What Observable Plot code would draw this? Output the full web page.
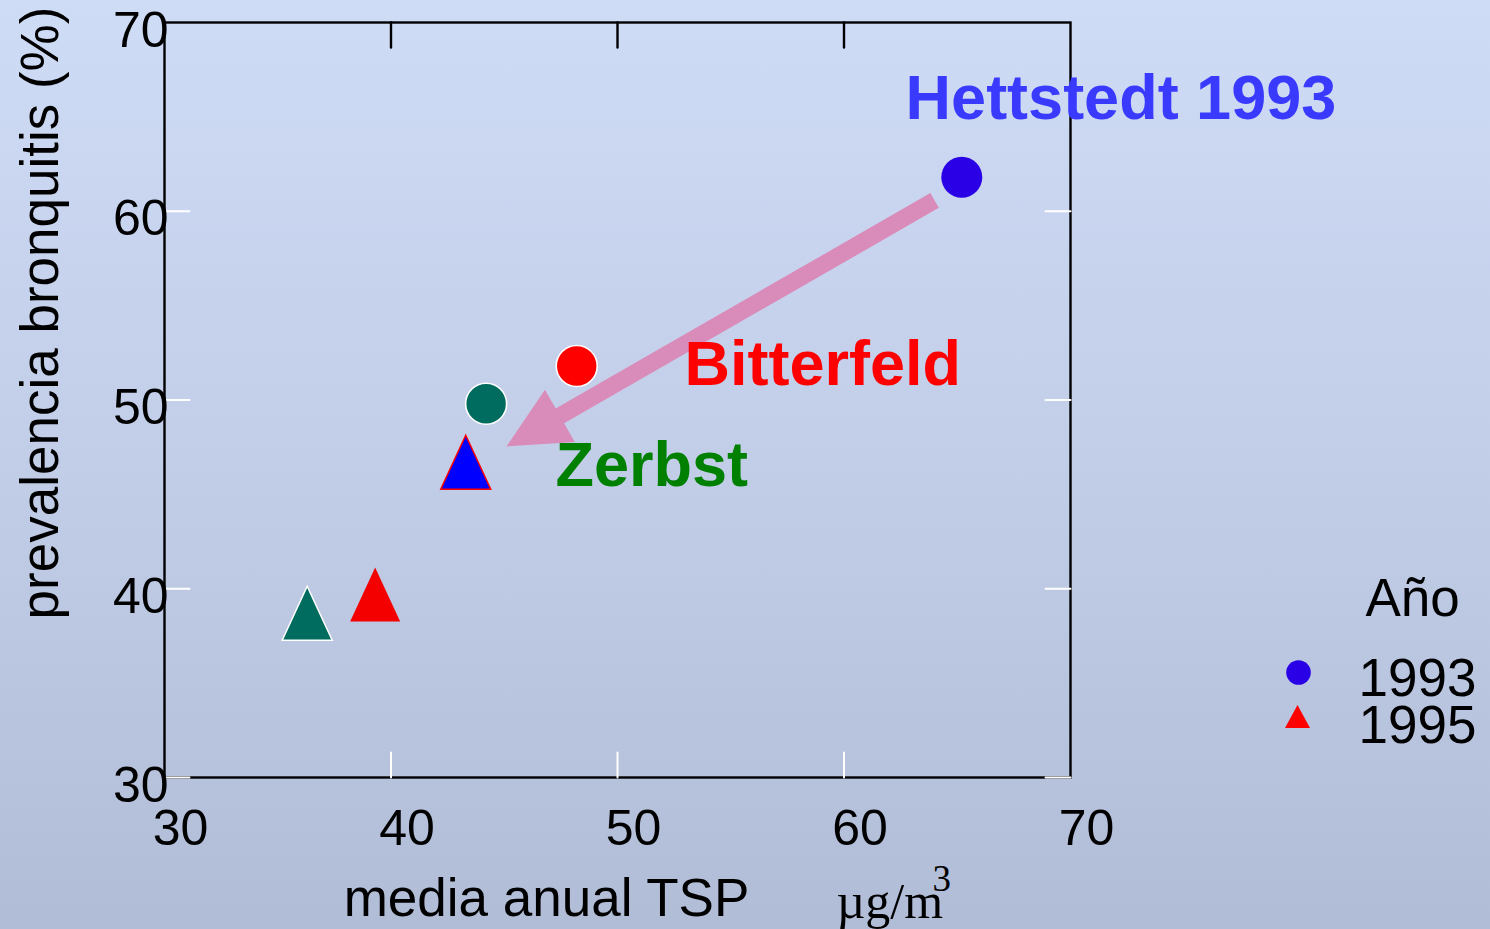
<!DOCTYPE html>
<html>
<head>
<meta charset="utf-8">
<script src="https://cdn.jsdelivr.net/npm/d3@7"></script>
<script src="https://cdn.jsdelivr.net/npm/@observablehq/plot@0.6"></script>
<style>
  html, body { margin: 0; padding: 0; }
  body {
    width: 1490px; height: 929px; overflow: hidden;
    background: linear-gradient(to bottom, #cfdcf6 0%, #c2cde8 50%, #b1bcd6 100%);
    font-family: "Liberation Sans", Arial, sans-serif;
  }
  svg { display: block; }
</style>
</head>
<body>
<div id="chart"></div>
<script>
// Bronchitis prevalence vs annual mean TSP, three towns, 1993 and 1995
const towns = ["Hettstedt", "Bitterfeld", "Zerbst", "Hettstedt", "Bitterfeld", "Zerbst"];
const years = [1993, 1993, 1993, 1995, 1995, 1995];
const tsp = [65.2, 48.2, 44.2, 43.3, 39.3, 36.3];          // µg/m³
const prevalence = [61.8, 51.8, 49.8, 46.7, 39.7, 38.7];   // %

const xTicks = [30, 40, 50, 60, 70];
const yTicks = [30, 40, 50, 60, 70];
const legendYears = [1993, 1995];

// Town annotations (text anchored at its baseline start, in data units)
const labelText = ["Hettstedt 1993", "Bitterfeld", "Zerbst"];
const labelX = [62.72, 52.96, 47.26];
const labelY = [64.91, 50.77, 45.42];

// Arrow from Hettstedt 1993 towards the lower-exposure cluster
const arrowFrom = [64.0, 60.57];
const arrowTo = [45.10, 47.54];

const rows = towns.map((town, i) => ({town, year: years[i], tsp: tsp[i], prev: prevalence[i]}));
const labels = labelText.map((text, i) => ({text, x: labelX[i], y: labelY[i]}));

// styling
const circleFill = {Hettstedt: "#2a00e6", Bitterfeld: "#ff0000", Zerbst: "#006b5f"};
const circleStroke = {Hettstedt: "none", Bitterfeld: "white", Zerbst: "white"};
const triFill = {Hettstedt: "#0000ff", Bitterfeld: "#f40000", Zerbst: "#006b5f"};
const triStroke = {Hettstedt: "#ff0000", Bitterfeld: "none", Zerbst: "white"};
const labelFill = {"Hettstedt 1993": "#3a3aff", "Bitterfeld": "#ff0000", "Zerbst": "#008000"};
const arrowColor = "#d98bb9";

// Tall isosceles triangle symbol, proportions relative to the dot radius
function triangleSymbol(wr, hr) {
  return {
    draw(ctx, size) {
      const k = Math.sqrt(size / Math.PI);
      const w = wr * k, h = hr * k;
      ctx.moveTo(0, -h / 2);
      ctx.lineTo(w / 2, h / 2);
      ctx.lineTo(-w / 2, h / 2);
      ctx.closePath();
    }
  };
}

// Filled arrow head with its point at the dot position
const headAngle = -119.8 * Math.PI / 180;
const arrowHead = {
  draw(ctx) {
    const pts = [[0, 0], [30, 61.5], [-30, 61.5]].map(([x, y]) => [
      x * Math.cos(headAngle) - y * Math.sin(headAngle),
      x * Math.sin(headAngle) + y * Math.cos(headAngle)
    ]);
    ctx.moveTo(pts[0][0], pts[0][1]);
    ctx.lineTo(pts[1][0], pts[1][1]);
    ctx.lineTo(pts[2][0], pts[2][1]);
    ctx.closePath();
  }
};

// shaft ends a little inside the head
const shaftEnd = [
  arrowTo[0] + (arrowFrom[0] - arrowTo[0]) * 0.08,
  arrowTo[1] + (arrowFrom[1] - arrowTo[1]) * 0.08
];

// tick shapes for inward ticks
const tickUp = {draw(ctx, l) { ctx.moveTo(0, 0); ctx.lineTo(0, -l); }};
const tickDown = {draw(ctx, l) { ctx.moveTo(0, 0); ctx.lineTo(0, l); }};
const tickRight = {draw(ctx, l) { ctx.moveTo(0, 0); ctx.lineTo(l, 0); }};
const tickLeft = {draw(ctx, l) { ctx.moveTo(0, 0); ctx.lineTo(-l, 0); }};

const x0 = xTicks[0], x1 = xTicks[xTicks.length - 1];
const y0 = yTicks[0], y1 = yTicks[yTicks.length - 1];
const xInner = xTicks.slice(1, -1);
const yInner = yTicks.slice(0, -1);

const legendMarks = legendYears.flatMap((yr, i) => {
  const dy = i === 0 ? 650 : 694;
  return [
    Plot.dot([yr], {
      frameAnchor: "top-right", dx: i === 0 ? 228 : 227, dy,
      r: 12.3,
      symbol: i === 0 ? "circle" : triangleSymbol(25 / 12.3, 23 / 12.3),
      fill: i === 0 ? circleFill.Hettstedt : "#ff0000",
      stroke: "none"
    }),
    Plot.text([String(yr)], {
      frameAnchor: "top-right", dx: 288, dy: i === 0 ? 673 : 720,
      textAnchor: "start", lineAnchor: "bottom", fontSize: 53, fill: "black"
    })
  ];
});

const serif = "\"Liberation Serif\", \"Times New Roman\", serif";

const chart = Plot.plot({
  width: 1490,
  height: 929,
  marginLeft: 164,
  marginRight: 420,
  marginTop: 22,
  marginBottom: 152,
  x: {domain: [x0, x1], axis: null},
  y: {domain: [y0, y1], axis: null},
  color: {type: "identity"},
  style: {background: "transparent", fontFamily: "\"Liberation Sans\", Arial, sans-serif", overflow: "visible"},
  marks: [
    // frame and inward ticks
    Plot.frame({stroke: "black", strokeWidth: 2.4}),
    Plot.vector(xInner, {x: d => d, y: y1, length: 25, shape: tickDown, anchor: "start", stroke: "black", strokeWidth: 2.4}),
    Plot.vector(xInner, {x: d => d, y: y0, length: 25, shape: tickUp, anchor: "start", stroke: "white", strokeWidth: 2}),
    Plot.vector(yInner, {x: x0, y: d => d, length: 25, shape: tickRight, anchor: "start", stroke: "white", strokeWidth: 2}),
    Plot.vector(yInner, {x: x1, y: d => d, length: 25, shape: tickLeft, anchor: "start", stroke: "white", strokeWidth: 2}),

    // tick labels
    Plot.text(xTicks, {x: d => d, y: y0, text: d => String(d), lineAnchor: "bottom", dx: 16, dy: 67, fontSize: 50, fill: "black"}),
    Plot.text(yTicks, {x: x0, y: d => d, text: d => String(d), textAnchor: "end", dx: 4, dy: 8, fontSize: 50, fill: "black"}),

    // axis titles
    Plot.text(["prevalencia bronquitis (%)"], {frameAnchor: "left", textAnchor: "middle", lineAnchor: "middle", rotate: -90,
      dx: -123, dy: -87, fontSize: 53, fill: "black"}),
    Plot.text(["media anual TSP"], {frameAnchor: "bottom", textAnchor: "middle", lineAnchor: "bottom", dx: -71, dy: 138, fontSize: 53, fill: "black"}),
    Plot.text(["\u00b5g/m"], {frameAnchor: "bottom-left", dx: 672, dy: 140, textAnchor: "start", lineAnchor: "bottom", fontSize: 50, fontFamily: serif, fill: "black"}),
    Plot.text(["3"], {frameAnchor: "bottom-left", dx: 768, dy: 113, textAnchor: "start", lineAnchor: "bottom", fontSize: 37, fontFamily: serif, fill: "black"}),

    // arrow
    Plot.link([0], {x1: arrowFrom[0], y1: arrowFrom[1], x2: shaftEnd[0], y2: shaftEnd[1], stroke: arrowColor, strokeWidth: 17, strokeLinecap: "butt"}),
    Plot.dot([0], {x: arrowTo[0], y: arrowTo[1], r: 30, symbol: arrowHead, fill: arrowColor, stroke: "none"}),

    // data points
    Plot.dot(rows, {filter: d => d.year === 1993, x: "tsp", y: "prev", r: 20.5, symbol: "circle",
      fill: d => circleFill[d.town], stroke: d => circleStroke[d.town], strokeWidth: 1.6}),
    Plot.dot(rows, {filter: d => d.year === 1995, x: "tsp", y: "prev", r: 21, symbol: triangleSymbol(50 / 21, 54 / 21),
      fill: d => triFill[d.town], stroke: d => triStroke[d.town], strokeWidth: 1.5}),

    // town labels
    Plot.text(labels, {x: "x", y: "y", text: "text", fill: d => labelFill[d.text], textAnchor: "start", lineAnchor: "bottom",
      fontSize: 63, fontWeight: "bold"}),

    // legend
    Plot.text(["Año"], {frameAnchor: "top-right", dx: 295, dy: 593, textAnchor: "start", lineAnchor: "bottom", fontSize: 53, fill: "black"}),
    ...legendMarks
  ]
});

document.getElementById("chart").appendChild(chart);
</script>
</body>
</html>
